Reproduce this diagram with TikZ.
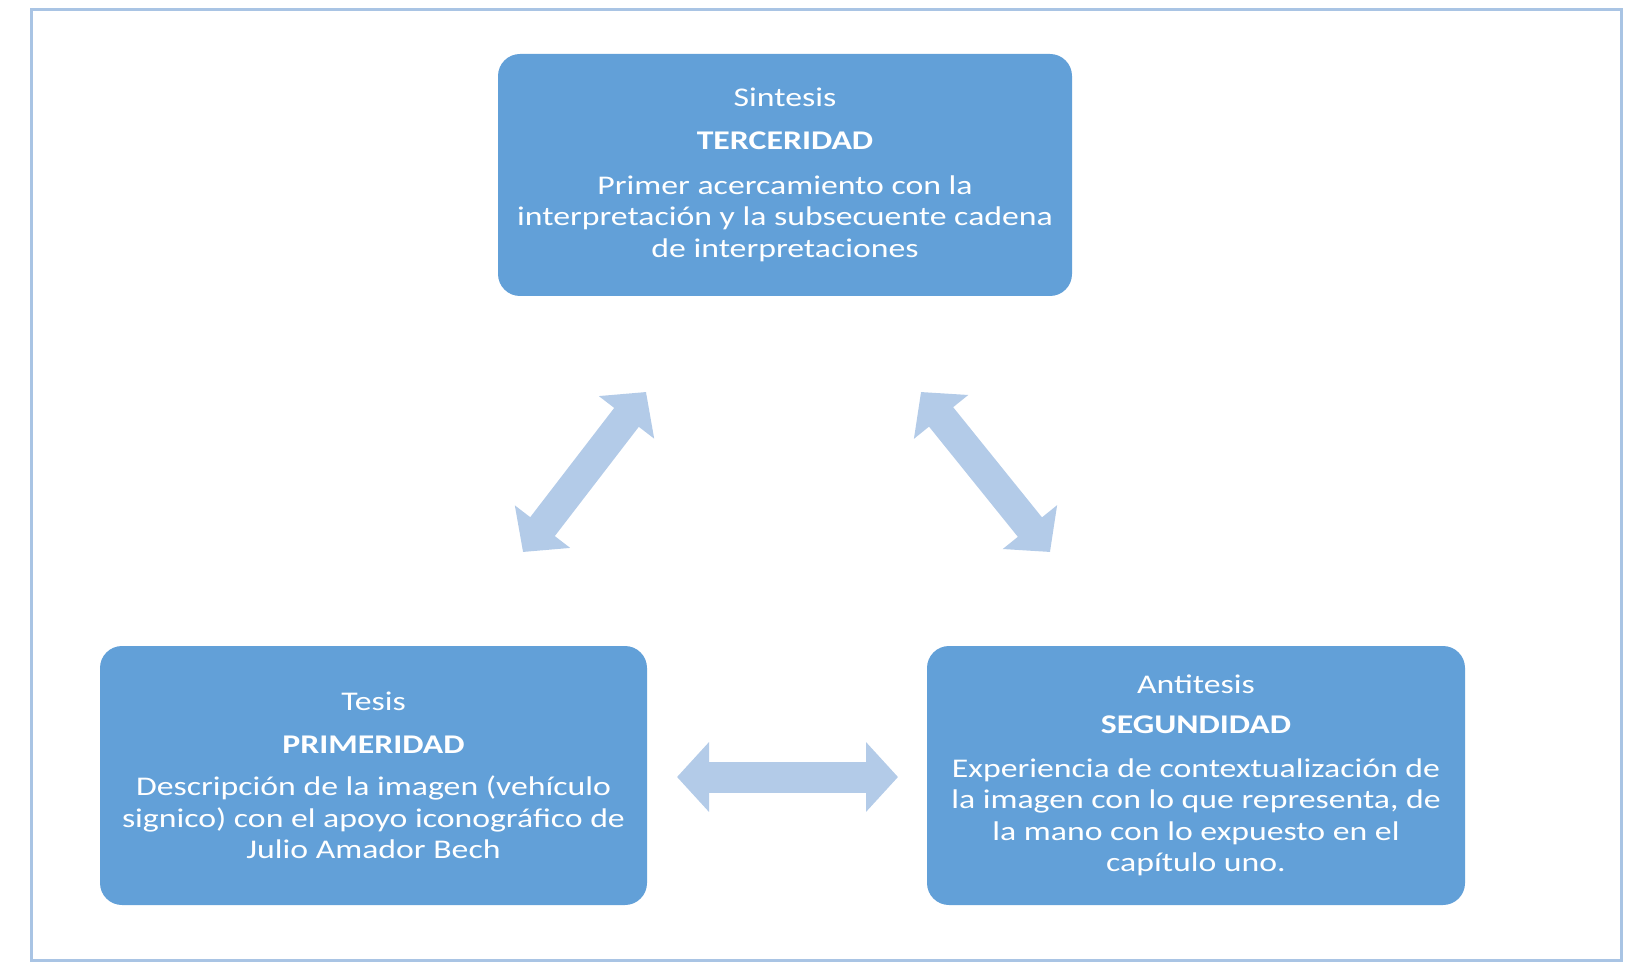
\documentclass[tikz,border=0pt]{standalone}
\usepackage{fontspec}
\setmainfont{Carlito}[FakeStretch=1.25]
\usetikzlibrary{arrows.meta}
\definecolor{boxblue}{HTML}{62A0D8}
\definecolor{arrowblue}{HTML}{B3CBE8}
\definecolor{framec}{HTML}{A9C4E4}
\begin{document}
\begin{tikzpicture}[x=0.5pt,y=-0.5pt,
  box/.style={fill=boxblue, draw=none, rounded corners=11pt, text=white, align=center,
    font=\fontsize{13.5}{15.75}\selectfont, inner sep=0pt},
  dbl/.style={arrowblue, line width=15.5pt,
    {Triangle[width=34pt,length=16pt]}-{Triangle[width=34pt,length=16pt]}}]
\useasboundingbox (0,0) rectangle (1641,962);
\draw[framec, line width=1.5pt] (31,10) rectangle (1621,960);

\node[box, minimum width=287pt, minimum height=121pt] (sint) at (785,175)
  {Sintesis\\[5.75pt]\textbf{TERCERIDAD}\\[6.5pt]Primer acercamiento con la\\interpretación y la subsecuente cadena\\de interpretaciones};
\node[box, minimum width=273.5pt, minimum height=129.5pt] (tesis) at (373.5,775.5)
  {Tesis\\[5.75pt]\textbf{PRIMERIDAD}\\[5.5pt]Descripción de la imagen (vehículo\\signico) con el apoyo iconográfico de\\Julio Amador Bech};
\node[box, minimum width=269pt, minimum height=129.5pt] (anti) at (1196,775.5)
  {Antitesis\\[4.25pt]\textbf{SEGUNDIDAD}\\[6.25pt]Experiencia de contextualización de\\la imagen con lo que representa, de\\la mano con lo expuesto en el\\capítulo uno.};

\coordinate (l1) at (523,552);
\coordinate (l2) at (646,392);
\coordinate (r1) at (921,392);
\coordinate (r2) at (1050,552);
\coordinate (h1) at (677,777);
\coordinate (h2) at (898,777);
\draw[dbl] (l1) -- (l2);
\draw[dbl] (r1) -- (r2);
\draw[dbl] (h1) -- (h2);
\end{tikzpicture}
\end{document}
